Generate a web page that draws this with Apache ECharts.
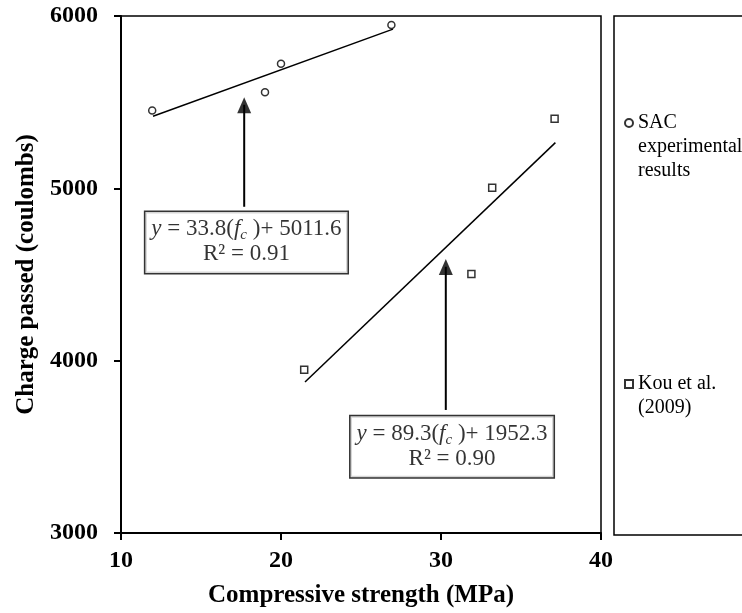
<!DOCTYPE html>
<html><head><meta charset="utf-8">
<script src="https://cdn.jsdelivr.net/npm/echarts@6/dist/echarts.min.js"></script>
<style>html,body{margin:0;padding:0;background:#fff}#c{width:742px;height:613px}</style>
</head><body><div id="c"></div>
<script>
const seriesNames = ['SAC experimental results', 'Kou et al. (2009)'];
const sacPoints = [[11.95, 5452], [19.0, 5558], [20.0, 5723], [26.9, 5948]];
const kouPoints = [[21.45, 3948], [31.9, 4503], [33.2, 5004], [37.1, 5404]];
const sacFit = [[12.0, 5418], [27.0, 5924]];
const kouFit = [[21.5, 3876], [37.15, 5265]];
const fitSlopes = ['33.8', '89.3'];
const fitIntercepts = ['5011.6', '1952.3'];
const fitR2 = ['0.91', '0.90'];
const labelAnchors = [[17.84, 4686], [30.69, 3500]];
const arrowStems = [[[17.7, 4893], [17.7, 5485]], [[30.3, 3714], [30.3, 4545]]];
const arrowHeads = [[17.7, 5482], [30.3, 4543]];
const xRange = [10, 40, 10];
const yRange = [3000, 6000, 1000];
const xTitle = 'Compressive strength (MPa)';
const yTitle = 'Charge passed (coulombs)';

const FONT = '"Liberation Serif", "Times New Roman", serif';
const chart = echarts.init(document.getElementById('c'), null, {renderer: 'canvas'});

function eqText(i) {
  return '{i|y} = ' + fitSlopes[i] + '({i|f}{s|c} )+ ' + fitIntercepts[i] + '\nR² = ' + fitR2[i];
}
const eqRich = {
  i: {fontStyle: 'italic', fontFamily: FONT, fontSize: 23, color: '#000'},
  s: {fontStyle: 'italic', fontFamily: FONT, fontSize: 15, color: '#000', padding: [12, 0, 0, 0]}
};
function eqSeries(i) {
  return {
    type: 'scatter', name: 'eq' + i, silent: true, z: 5,
    symbol: 'circle', symbolSize: 1, itemStyle: {color: 'rgba(0,0,0,0)'},
    data: [labelAnchors[i]],
    label: {
      show: true, position: 'inside', formatter: eqText(i),
      fontFamily: FONT, fontSize: 23, color: '#000', lineHeight: 25, align: 'center',
      backgroundColor: '#fff', borderColor: '#000', borderWidth: 1.5,
      padding: [5, 6, 6, 6], rich: eqRich
    }
  };
}
// leading blank lines keep the first text line level with the legend icon
function legendCfg(i, top, blankLines) {
  return {
    data: [seriesNames[i]], left: 624, top: top, padding: 0,
    itemWidth: 8, itemHeight: 8, selectedMode: false,
    formatter: name => '\n'.repeat(blankLines) + name,
    textStyle: {fontFamily: FONT, fontSize: 20, color: '#000', width: 112, overflow: 'break', lineHeight: 24}
  };
}

const option = {
  animation: false,
  backgroundColor: '#fff',
  grid: {left: 121, top: 16, right: 141, bottom: 80, show: true, borderColor: '#000', borderWidth: 1.5, backgroundColor: 'transparent'},
  xAxis: {
    type: 'value', min: xRange[0], max: xRange[1], interval: xRange[2],
    name: xTitle, nameLocation: 'middle', nameGap: 50,
    nameTextStyle: {fontFamily: FONT, fontSize: 25, fontWeight: 'bold', color: '#000'},
    axisLine: {show: true, lineStyle: {color: '#000', width: 2}},
    axisTick: {show: true, length: 7, lineStyle: {color: '#000', width: 2}},
    axisLabel: {fontFamily: FONT, fontSize: 24, fontWeight: 'bold', color: '#000', margin: 16},
    splitLine: {show: false}
  },
  yAxis: {
    type: 'value', min: yRange[0], max: yRange[1], interval: yRange[2],
    name: yTitle, nameLocation: 'middle', nameGap: 79,
    nameTextStyle: {fontFamily: FONT, fontSize: 25, fontWeight: 'bold', color: '#000'},
    axisLine: {show: true, lineStyle: {color: '#000', width: 2}},
    axisTick: {show: true, length: 7, lineStyle: {color: '#000', width: 2}},
    axisLabel: {fontFamily: FONT, fontSize: 24, fontWeight: 'bold', color: '#000', margin: 23,
      formatter: v => String(v)},
    splitLine: {show: false}
  },
  legend: [legendCfg(0, 63, 2), legendCfg(1, 348, 1)],
  graphic: [{
    type: 'rect', shape: {x: 614, y: 16, width: 200, height: 519},
    style: {fill: 'none', stroke: '#000', lineWidth: 1.5}, silent: true
  }],
  series: [
    {type: 'line', name: 'sacFit', data: sacFit, symbol: 'none', lineStyle: {color: '#000', width: 1.5}, silent: true, z: 2},
    {type: 'line', name: 'kouFit', data: kouFit, symbol: 'none', lineStyle: {color: '#000', width: 1.5}, silent: true, z: 2},
    {type: 'scatter', name: seriesNames[0], data: sacPoints, symbol: 'circle', symbolSize: 7,
      itemStyle: {color: '#fff', borderColor: '#000', borderWidth: 1.5}, z: 3},
    {type: 'scatter', name: seriesNames[1], data: kouPoints, symbol: 'rect', symbolSize: 7,
      itemStyle: {color: '#fff', borderColor: '#000', borderWidth: 1.5}, z: 3},
    {type: 'line', name: 'arrow0', data: arrowStems[0], symbol: 'none', lineStyle: {color: '#000', width: 2}, silent: true, z: 4},
    {type: 'line', name: 'arrow1', data: arrowStems[1], symbol: 'none', lineStyle: {color: '#000', width: 2}, silent: true, z: 4},
    {type: 'scatter', name: 'heads', data: arrowHeads, symbol: 'triangle', symbolSize: [14, 16],
      itemStyle: {color: '#000'}, silent: true, z: 4},
    eqSeries(0),
    eqSeries(1)
  ]
};
chart.setOption(option);
</script>
</body></html>
